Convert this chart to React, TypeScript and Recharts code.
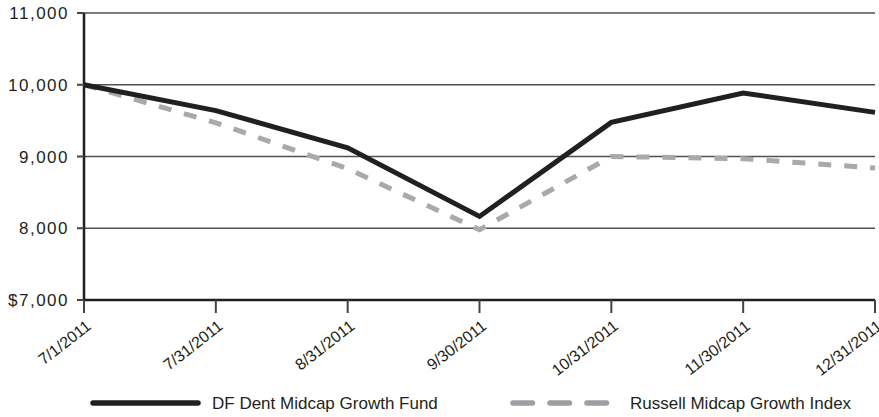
import React from "react";
import { CartesianGrid, Legend, Line, LineChart, XAxis, YAxis } from "recharts";

const dates = ["7/1/2011", "7/31/2011", "8/31/2011", "9/30/2011", "10/31/2011", "11/30/2011", "12/31/2011"];
const fundValues = [10000, 9640, 9120, 8165, 9475, 9885, 9615];
const indexValues = [10000, 9470, 8830, 7980, 9000, 8970, 8840];
const yTicks = [7000, 8000, 9000, 10000, 11000];

const fundName = "DF Dent Midcap Growth Fund";
const indexName = "Russell Midcap Growth Index";

const ink = "#231f20";
const gray = "#a7a9ac";
const font = "'Liberation Sans', Arial, sans-serif";

const data = dates.map((date, i) => ({ date, fund: fundValues[i], index: indexValues[i] }));

const DateTick = (props: any) => {
    const { x, y, payload } = props;
    return (
        <g transform={`translate(${x + 8},${y + 15}) rotate(-38)`}>
            <text x={0} y={0} textAnchor="end" fill={ink} fontSize={16} fontFamily={font}>
                {payload.value}
            </text>
        </g>
    );
};

const LegendRow = () => (
    <svg width={879} height={32} style={{ display: "block" }}>
        <line x1={93} y1={18} x2={198} y2={18} stroke={ink} strokeWidth={5.5} strokeLinecap="round" />
        <text x={212} y={24} fill={ink} fontSize={17} fontFamily={font}>{fundName}</text>
        <line x1={513} y1={18} x2={607} y2={18} stroke="#9d9fa2" strokeWidth={5.5} strokeLinecap="round" strokeDasharray="19.5 17.5" />
        <text x={630} y={24} fill={ink} fontSize={17} fontFamily={font}>{indexName}</text>
    </svg>
);

export default function App() {
    return (
        <div style={{ width: 879, height: 417 }}>
            <style>{"body{margin:0}"}</style>
            <LineChart width={879} height={417} data={data} margin={{ top: 13, right: 4, left: 0, bottom: 0 }}>
                <CartesianGrid vertical={false} stroke="#505050" strokeWidth={1.3} />
                <XAxis
                    dataKey="date"
                    height={85}
                    axisLine={{ stroke: ink, strokeWidth: 2.5 }}
                    tickLine={{ stroke: "#444", strokeWidth: 2 }}
                    tickSize={13}
                    tickMargin={0}
                    interval={0}
                    tick={<DateTick />}
                />
                <YAxis
                    width={84}
                    domain={[7000, 11000]}
                    ticks={yTicks}
                    axisLine={{ stroke: ink, strokeWidth: 2.5 }}
                    tickLine={{ stroke: "#444", strokeWidth: 2 }}
                    tickSize={7}
                    tickMargin={8}
                    tick={{ fill: ink, fontSize: 17, fontFamily: font, letterSpacing: 1.5 }}
                    tickFormatter={(v) => (v === 7000 ? "$7,000" : v.toLocaleString("en-US"))}
                />
                <Legend verticalAlign="bottom" height={32} content={() => <LegendRow />} />
                <Line
                    dataKey="index"
                    name={indexName}
                    stroke={gray}
                    strokeWidth={5}
                    strokeDasharray="13 13"
                    dot={false}
                    activeDot={false}
                    isAnimationActive={false}
                />
                <Line
                    dataKey="fund"
                    name={fundName}
                    stroke={ink}
                    strokeWidth={5}
                    dot={false}
                    activeDot={false}
                    isAnimationActive={false}
                />
            </LineChart>
        </div>
    );
}
